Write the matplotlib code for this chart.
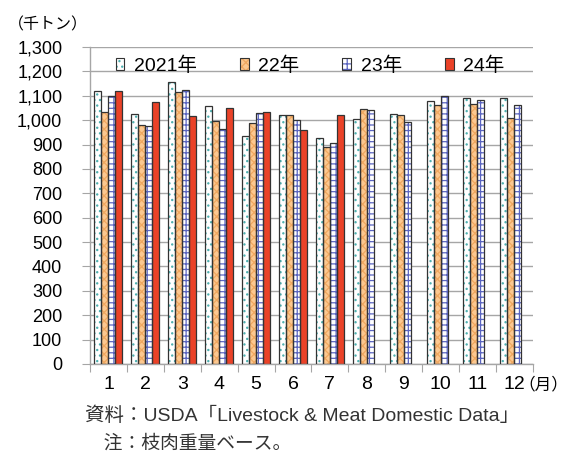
import numpy as np
import matplotlib
matplotlib.use("Agg")
import matplotlib.pyplot as plt
from matplotlib.legend_handler import HandlerTuple

plt.rcParams['font.family'] = ['Liberation Sans', 'Noto Sans CJK JP', 'DejaVu Sans']
plt.rcParams['hatch.linewidth'] = 0.9

months = ['1', '2', '3', '4', '5', '6', '7', '8', '9', '10', '11', '12']
y2021 = [1120, 1026, 1155, 1060, 937, 1021, 927, 1004, 1027, 1078, 1093, 1090]
y2022 = [1032, 981, 1114, 997, 988, 1021, 892, 1045, 1023, 1061, 1067, 1010]
y2023 = [1099, 977, 1126, 962, 1029, 999, 908, 1041, 992, 1099, 1083, 1061]
y2024 = [1119, 1074, 1018, 1049, 1032, 959, 1020]  # Jan-Jul only

series = [
    ('2021年', y2021, 'white', '#4fb0b0', '...'),
    ('22年', y2022, '#fcc890', '#f0a860', 'xxxx'),
    ('23年', y2023, 'white', '#5a64c0', '+++'),
    ('24年', y2024, '#ea4228', '#ea4228', None),
]

fig = plt.figure(figsize=(5.68, 4.53), dpi=100)
ax = fig.add_axes([0.1585, 0.1965, 0.7795, 0.6995])

x = np.arange(len(months))
w = 0.19
handles = []
for i, (name, vals, face, hcol, hatch) in enumerate(series):
    xs = x[:len(vals)] + (i - 1.5) * w
    ax.bar(xs, vals, w, color=face, edgecolor=hcol, hatch=hatch, linewidth=0, zorder=2)
    ax.bar(xs, vals, w, fill=False, edgecolor='#333333', linewidth=0.9, zorder=3)
    # legend proxy: hatched patch + dark outline on top
    h1 = plt.Rectangle((0, 0), 1, 1, facecolor=face, edgecolor=hcol, hatch=hatch, linewidth=0)
    h2 = plt.Rectangle((0, 0), 1, 1, fill=False, edgecolor='#333333', linewidth=0.8)
    handles.append((h1, h2))

ax.set_xlim(-0.5, 11.5)
ax.set_ylim(0, 1300)
ax.set_yticks(np.arange(0, 1301, 100))
ax.set_yticklabels([f'{v:,}' for v in range(0, 1301, 100)], fontsize=13)
ax.yaxis.grid(True, color='#a6a6a6', linewidth=1.0, zorder=0)
ax.set_axisbelow(True)

ax.set_xticks(np.arange(-0.5, 12, 1))
ax.set_xticklabels([])
ax.set_xticks(x, minor=True)
ax.set_xticklabels(months, minor=True, fontsize=14)
ax.tick_params(axis='x', which='major', length=6, color='#a6a6a6', direction='out')
ax.tick_params(axis='x', which='minor', length=0, pad=9)
ax.tick_params(axis='y', length=6, color='#a6a6a6', pad=14)

for s in ['top', 'right']:
    ax.spines[s].set_visible(False)
for s in ['left', 'bottom']:
    ax.spines[s].set_color('#a6a6a6')
    ax.spines[s].set_linewidth(1.0)

leg = ax.legend(handles, [s[0] for s in series], ncol=4, loc='upper left',
                bbox_to_anchor=(0.04, 0.995), frameon=False, fontsize=14,
                handlelength=0.45, handleheight=0.5, handletextpad=0.5,
                columnspacing=2.2, borderaxespad=0,
                handler_map={tuple: HandlerTuple(ndivide=1, pad=0)})

fig.text(8 / 568, 1 - 25 / 453, '（千トン）', fontsize=11.5, va='center', ha='left')
fig.text(568 / 568, 1 - 384 / 453, '（月）', fontsize=12, va='center', ha='right')
fig.text(85 / 568, 1 - 416 / 453, '資料：USDA「Livestock & Meat Domestic Data」',
         fontsize=14, va='center', ha='left', color='#333333')
fig.text(85 / 568, 1 - 443 / 453, '\u3000注：枝肉重量ベース。',
         fontsize=13.5, va='center', ha='left', color='#333333',
         family=['Noto Sans CJK JP', 'DejaVu Sans'])

fig.savefig('out.png', dpi=100)
